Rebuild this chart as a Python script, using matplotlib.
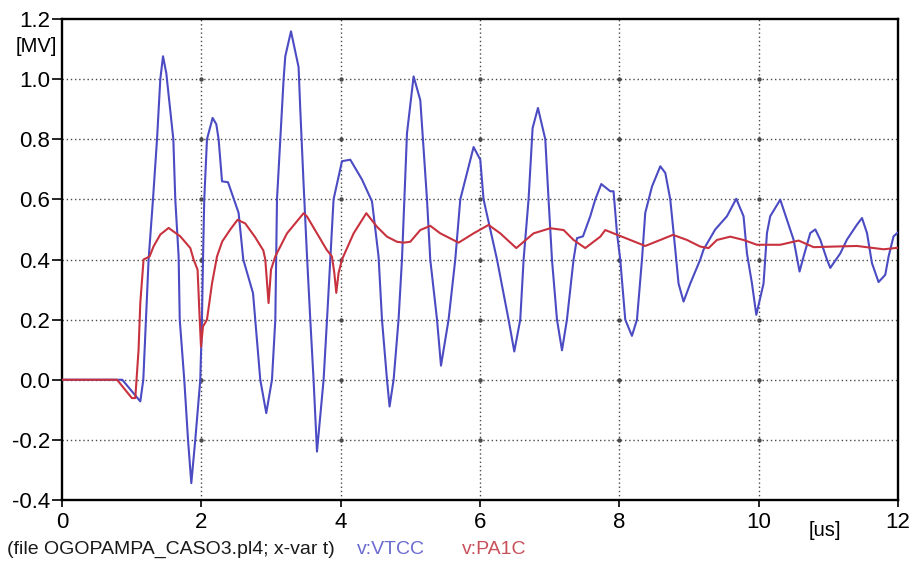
import numpy as np
import matplotlib
matplotlib.use("Agg")
import matplotlib.pyplot as plt

plt.rcParams['font.family'] = ['Liberation Sans', 'DejaVu Sans']

# time axis in microseconds, voltages in MV
t_vtcc = [0.0, 0.865, 1.124, 1.167, 1.243, 1.306, 1.364, 1.411, 1.450, 1.497, 1.598,
          1.626, 1.674, 1.690, 1.755, 1.809, 1.856, 1.913, 1.985, 2.009, 2.024, 2.042,
          2.081, 2.162, 2.215, 2.248, 2.297, 2.383, 2.535, 2.602, 2.742, 2.846, 2.932,
          3.014, 3.062, 3.086, 3.133, 3.181, 3.205, 3.287, 3.396, 3.420, 3.468, 3.517,
          3.564, 3.611, 3.660, 3.755, 3.804, 3.851, 3.898, 4.019, 4.138, 4.306, 4.450,
          4.544, 4.593, 4.665, 4.702, 4.760, 4.831, 4.880, 4.952, 5.047, 5.143, 5.239,
          5.286, 5.383, 5.440, 5.549, 5.645, 5.717, 5.908, 6.004, 6.051, 6.244, 6.410,
          6.492, 6.578, 6.626, 6.697, 6.755, 6.832, 6.937, 6.984, 7.033, 7.105, 7.177,
          7.248, 7.343, 7.392, 7.478, 7.583, 7.655, 7.741, 7.870, 7.917, 7.966, 8.013,
          8.085, 8.181, 8.253, 8.325, 8.372, 8.469, 8.588, 8.660, 8.731, 8.803, 8.850,
          8.922, 9.018, 9.162, 9.209, 9.377, 9.545, 9.678, 9.783, 9.832, 9.904, 9.966,
          10.070, 10.119, 10.166, 10.310, 10.406, 10.501, 10.587, 10.645, 10.741, 10.813,
          10.884, 10.980, 11.028, 11.075, 11.171, 11.267, 11.411, 11.483, 11.555, 11.626,
          11.721, 11.817, 11.865, 11.936, 12.0]
v_vtcc = [0.0, 0.0, -0.072, 0.0, 0.40, 0.60, 0.80, 1.00, 1.076, 1.02, 0.80,
          0.60, 0.41, 0.20, 0.0, -0.20, -0.344, -0.20, 0.0, 0.20, 0.40, 0.60,
          0.80, 0.871, 0.85, 0.80, 0.66, 0.657, 0.555, 0.40, 0.288, 0.0, -0.111,
          0.0, 0.20, 0.60, 0.80, 1.00, 1.076, 1.159, 1.04, 0.90, 0.65, 0.41,
          0.20, 0.0, -0.239, 0.0, 0.20, 0.40, 0.60, 0.727, 0.732, 0.666, 0.593,
          0.41, 0.20, 0.0, -0.089, 0.0, 0.20, 0.40, 0.82, 1.009, 0.93, 0.60,
          0.40, 0.20, 0.047, 0.20, 0.40, 0.60, 0.774, 0.732, 0.60, 0.40, 0.20,
          0.094, 0.20, 0.40, 0.60, 0.837, 0.904, 0.80, 0.60, 0.40, 0.20, 0.098,
          0.20, 0.40, 0.471, 0.477, 0.544, 0.60, 0.651, 0.627, 0.627, 0.488, 0.40,
          0.20, 0.146, 0.20, 0.40, 0.555, 0.643, 0.71, 0.688, 0.60, 0.433, 0.32,
          0.26, 0.32, 0.40, 0.433, 0.50, 0.544, 0.602, 0.544, 0.42, 0.32, 0.216,
          0.32, 0.488, 0.544, 0.599, 0.532, 0.466, 0.36, 0.41, 0.488, 0.50,
          0.466, 0.40, 0.372, 0.388, 0.42, 0.466, 0.516, 0.538, 0.488, 0.388,
          0.325, 0.349, 0.41, 0.477, 0.49]

t_pa1c = [0.0, 0.79, 1.003, 1.052, 1.099, 1.124, 1.171, 1.257, 1.315, 1.411, 1.530,
          1.698, 1.842, 1.889, 1.946, 1.975, 1.995, 2.024, 2.081, 2.153, 2.225, 2.30,
          2.416, 2.520, 2.630, 2.770, 2.890, 2.918, 2.965, 3.000, 3.061, 3.230, 3.468,
          3.517, 3.660, 3.800, 3.875, 3.909, 3.937, 3.970, 4.019, 4.186, 4.368, 4.521,
          4.665, 4.808, 4.903, 4.999, 5.143, 5.286, 5.430, 5.693, 5.908, 6.123, 6.291,
          6.521, 6.769, 7.009, 7.200, 7.343, 7.511, 7.727, 7.798, 7.917, 8.157, 8.372,
          8.588, 8.770, 8.971, 9.162, 9.281, 9.401, 9.592, 9.783, 9.975, 10.310, 10.573,
          10.789, 11.076, 11.411, 11.793, 12.0]
v_pa1c = [0.0, 0.0, -0.061, -0.061, 0.10, 0.256, 0.40, 0.41, 0.444, 0.483, 0.505,
          0.477, 0.438, 0.40, 0.366, 0.21, 0.11, 0.177, 0.20, 0.32, 0.41, 0.46,
          0.50, 0.532, 0.52, 0.475, 0.43, 0.40, 0.255, 0.366, 0.41, 0.487, 0.554,
          0.543, 0.487, 0.432, 0.41, 0.355, 0.289, 0.355, 0.40, 0.487, 0.554, 0.509,
          0.476, 0.459, 0.456, 0.459, 0.498, 0.512, 0.487, 0.456, 0.487, 0.515, 0.487,
          0.438, 0.487, 0.504, 0.498, 0.465, 0.438, 0.476, 0.498, 0.487, 0.465, 0.445,
          0.465, 0.482, 0.465, 0.443, 0.438, 0.465, 0.476, 0.465, 0.449, 0.449, 0.463,
          0.441, 0.443, 0.445, 0.434, 0.439]

x_ticks = [0, 2, 4, 6, 8, 10, 12]
y_ticks = [-0.4, -0.2, 0.0, 0.2, 0.4, 0.6, 0.8, 1.0, 1.2]
y_labels = ['-0.4', '-0.2', '0.0', '0.2', '0.4', '0.6', '0.8', '1.0', '1.2']

BLUE = '#4b4bc3'
RED = '#c8323f'

W, H = 913, 567
fig = plt.figure(figsize=(W / 100, H / 100), dpi=100)
ax = fig.add_axes([62 / W, (H - 500) / H, 836 / W, 481 / H])

# dotted grid with marks at the crossings
grid_kw = dict(color='#4a4a4a', linewidth=1.0, linestyle=(0, (1, 2)), zorder=1)
for gx in x_ticks[1:-1]:
    ax.axvline(gx, **grid_kw)
for gy in y_ticks[1:-1]:
    ax.axhline(gy, **grid_kw)
gx, gy = np.meshgrid(x_ticks[1:-1], y_ticks[1:-1])
ax.scatter(gx.ravel(), gy.ravel(), s=10, color='#4a4a4a', zorder=1.5, linewidths=0)

ax.plot(t_vtcc, v_vtcc, color=BLUE, linewidth=1.5, zorder=3)
ax.plot(t_pa1c, v_pa1c, color=RED, linewidth=1.5, zorder=4)

ax.set_xlim(0, 12)
ax.set_ylim(-0.4, 1.2)
ax.set_xticks(x_ticks)
ax.set_xticklabels([str(v) for v in x_ticks])
ax.set_yticks(y_ticks)
ax.set_yticklabels(y_labels)

for s in ax.spines.values():
    s.set_linewidth(1.7)
    s.set_color('black')

ax.tick_params(axis='y', direction='out', length=7, width=1.2, pad=1.5,
               labelsize=16, colors='black')
ax.tick_params(axis='x', direction='out', length=5, width=1.2, pad=3.5,
               labelsize=16, colors='black')

def fx(px):
    return px / W

def fy(py):
    return 1 - py / H

fig.text(fx(36), fy(46), '[MV]', fontsize=14.5, ha='center', va='center', color='black')
fig.text(fx(825), fy(530), '[us]', fontsize=14.5, ha='center', va='center', color='black')

fig.text(fx(7), fy(549), '(file OGOPAMPA_CASO3.pl4; x-var t)', fontsize=14,
         ha='left', va='center', color='#1a1a1a')
fig.text(fx(357), fy(549), 'v:VTCC', fontsize=14, ha='left', va='center', color='#6a6ad0')
fig.text(fx(462), fy(549), 'v:PA1C', fontsize=14, ha='left', va='center', color='#c8505a')

fig.savefig('out.png', dpi=100)
